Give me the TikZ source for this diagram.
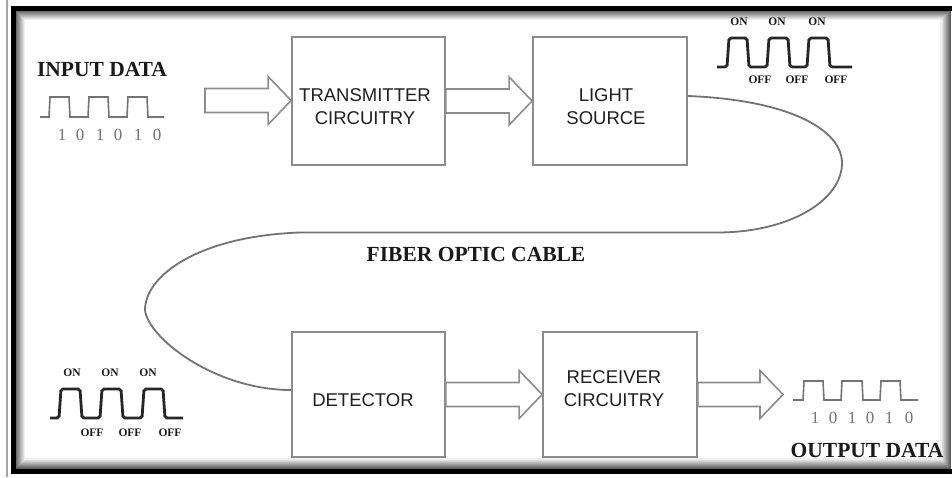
\documentclass[tikz,border=0pt]{standalone}
\usepackage{fontspec}
\setmainfont{Liberation Serif}
\newfontfamily\arialf{Liberation Sans}
\usetikzlibrary{calc}
\tikzset{
 box/.style={draw=black!45, line width=1.8pt, minimum width=153pt, inner sep=0pt},
 boxtext/.style={font=\arialf\fontsize{18.5}{23}\selectfont, text=black!88, align=center, inner sep=0pt},
 titletext/.style={font=\bfseries\fontsize{21.5}{24}\selectfont, text=black!90, inner sep=0pt},
 digit/.style={font=\fontsize{17}{20}\selectfont, text=black!55, inner sep=0pt},
 onoff/.style={font=\bfseries\fontsize{11.5}{13}\selectfont, inner sep=0pt, text=black!90},
 hollow/.style={draw=black!45, line width=1.6pt, fill=white, line join=miter},
 cable/.style={draw=black!55, line width=1.8pt},
 graywave/.style={draw=black!55, line width=1.6pt},
 blackwave/.style={draw=black!85, line width=2.8pt, rounded corners=2pt},
}
\newcommand\harrow[2]{\draw[hollow] let \p1=(#1), \p2=(#2) in
  (\x1,\y1+12pt) -- (\x2-23pt,\y1+12pt) -- (\x2-23pt,\y1+24pt) -- (\x2,\y1)
  -- (\x2-23pt,\y1-24pt) -- (\x2-23pt,\y1-12pt) -- (\x1,\y1-12pt) -- cycle;}
\begin{document}
\begin{tikzpicture}[x=1pt,y=-1pt]
\useasboundingbox (0,0) rectangle (952,477);
\fill[white] (0,0) rectangle (952,477);
% outer thin gray line
\draw[line width=1.3pt, black!35] (7,0) -- (7,477);
% inner shadow
\foreach \i in {0,...,9}{
  \pgfmathsetmacro\sh{64-6.4*\i}
  \draw[line width=1.1pt, black!\sh] (15.5+\i,10.5+\i) rectangle (950-\i,468-\i);
}
% black frame
\draw[line width=5pt, black] (13,8.5) rectangle (960,471.5);

% boxes
\node[box, minimum height=128pt] (trans) at (368.5,101) {};
\node[box, minimum width=154pt, minimum height=128pt] (light) at (610,101) {};
\node[box, minimum height=125pt] (det) at (368.5,394.5) {};
\node[box, minimum width=154pt, minimum height=125pt] (recv) at (620,394.5) {};

\node[boxtext] (transtxt) at (365,106.5) {TRANSMITTER\\CIRCUITRY};
\node[boxtext] (lighttxt) at (606,106.5) {LIGHT\\SOURCE};
\node[boxtext] (dettxt) at (363,400) {DETECTOR};
\node[boxtext] (recvtxt) at (614,389) {RECEIVER\\CIRCUITRY};

% hollow arrows
\coordinate (inarr) at (205,100.5);
\coordinate (outarr) at (783,395);
\harrow{inarr}{trans.west}
\harrow{trans.east}{light.west}
\harrow{det.east}{recv.west}
\harrow{recv.east}{outarr}

% fiber optic cable
\coordinate (cabin) at ($(light.east)+(0,-5)$);
\coordinate (cabout) at ($(det.west)+(0,-4.5)$);
\draw[cable] (cabin) .. controls (790,100) and (842,130) .. (842,163)
  .. controls (842,200) and (790,232.5) .. (717,232.5) -- (300,232.5)
  .. controls (200,236) and (145,275) .. (145,310)
  .. controls (148,338) and (215,390) .. (cabout);
\node[titletext] (fiber) at (476,254.5) {FIBER OPTIC CABLE};

% input data
\node[titletext] (indata) at (102,69.5) {INPUT DATA};
\draw[graywave] (40,117) -- (49,117) -- (50,97) -- (69,97) -- (70,117) -- (88,117) -- (89,97) -- (108,97) -- (109,117) -- (127,117) -- (128,97) -- (147,97) -- (148,117) -- (164,117);
\foreach \xx/\d [count=\k] in {62/1,80/0,100/1,118/0,138/1,157/0}
  \node[digit] (ind\k) at (\xx,135) {\d};

% output data
\node[titletext] (outdata) at (867,450) {OUTPUT DATA};
\draw[graywave] (793,400) -- (803,400) -- (804,381) -- (823,381) -- (824,400) -- (841,400) -- (842,381) -- (862,381) -- (863,400) -- (880,400) -- (881,381) -- (900,381) -- (901,400) -- (918,400);
\foreach \xx/\d [count=\k] in {815/1,833/0,852/1,870/0,889/1,909/0}
  \node[digit] (outd\k) at (\xx,418) {\d};

% ON/OFF light pulses (top right)
\draw[blackwave] (717,67) -- (727,67) -- (729,38) -- (747,38) -- (749,67) -- (767,67) -- (769,38) -- (788,38) -- (790,67) -- (807,67) -- (809,38) -- (828,38) -- (830,67) -- (852,67);
\foreach \xx [count=\k] in {739,777,817}
  \node[onoff] (ton\k) at (\xx,22) {ON};
\foreach \xx [count=\k] in {760,797,836}
  \node[onoff] (toff\k) at (\xx,80) {OFF};

% ON/OFF light pulses (bottom left)
\draw[blackwave] (50,418) -- (59,418) -- (61,389) -- (80,389) -- (82,418) -- (100,418) -- (102,389) -- (121,389) -- (123,418) -- (142,418) -- (144,389) -- (163,389) -- (165,418) -- (183,418);
\foreach \xx [count=\k] in {72,110,148}
  \node[onoff] (bon\k) at (\xx,373) {ON};
\foreach \xx [count=\k] in {92,130,170}
  \node[onoff] (boff\k) at (\xx,433) {OFF};
\end{tikzpicture}
\end{document}
